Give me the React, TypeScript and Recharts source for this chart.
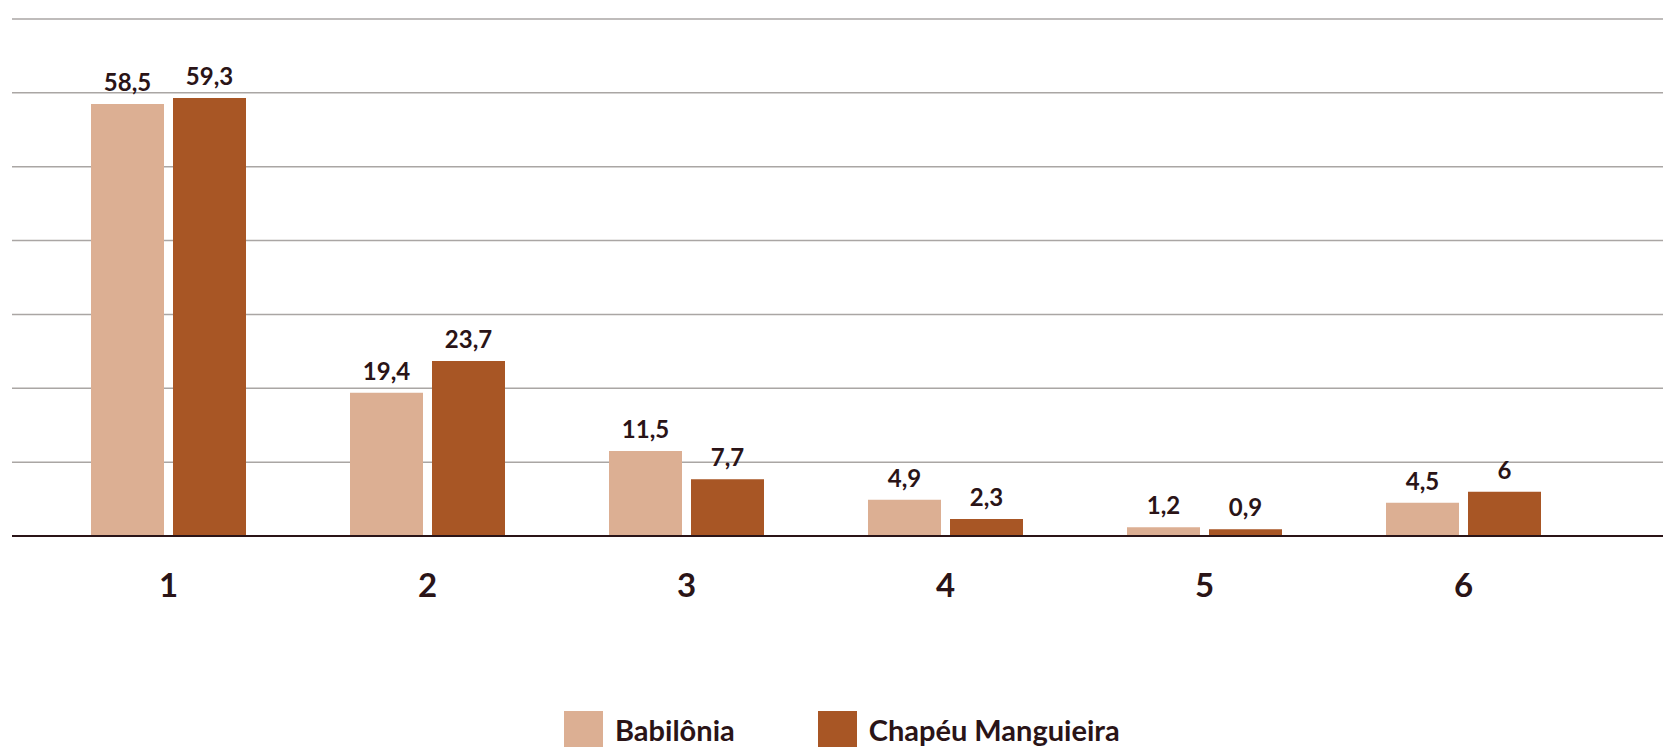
import { BarChart, Bar, XAxis, YAxis, CartesianGrid, Legend, LabelList } from "recharts";

const categories = ["1", "2", "3", "4", "5", "6"];
const babilonia = [58.5, 19.4, 11.5, 4.9, 1.2, 4.5];
const chapeu = [59.3, 23.7, 7.7, 2.3, 0.9, 6];
const yTicks = [0, 10, 20, 30, 40, 50, 60, 70];

const LIGHT = "#dcaf93";
const DARK = "#a85625";
const INK = "#2a1417";
const FONT = "Lato, 'Noto Sans', sans-serif";

const data = categories.map((c, i) => ({
  name: c,
  babilonia: babilonia[i],
  chapeu: chapeu[i],
}));

const fmt = (v: any) => String(v).replace(".", ",");

function LegendBox() {
  const items = [
    { label: "Babilônia", color: LIGHT },
    { label: "Chapéu Manguieira", color: DARK },
  ];
  return (
    <div style={{ display: "flex", height: 36, paddingLeft: 552, fontFamily: FONT }}>
      {items.map((it) => (
        <div key={it.label} style={{ display: "flex", alignItems: "center", marginRight: 83 }}>
          <div style={{ width: 39, height: 36, background: it.color, marginRight: 12 }} />
          <span style={{ fontSize: 29, fontWeight: 700, color: INK }}>{it.label}</span>
        </div>
      ))}
    </div>
  );
}

const labelStyle = { fontSize: 24, fontWeight: 700, fill: INK, fontFamily: FONT };

export default function App() {
  return (
    <div style={{ position: "absolute", left: 0, top: 0, width: 1663, height: 747, background: "#fff" }}>
      <BarChart
        width={1663}
        height={747}
        data={data}
        margin={{ top: 19, right: 0, left: 12, bottom: 0 }}
        barSize={73}
        barGap={9}
      >
        <CartesianGrid vertical={false} stroke="#aaa6a4" strokeWidth={1.5} />
        <YAxis hide domain={[0, 70]} ticks={yTicks} width={0} />
        <XAxis
          dataKey="name"
          padding={{ left: 27, right: 70 }}
          height={175}
          axisLine={{ stroke: INK, strokeWidth: 2 }}
          tickLine={false}
          tickMargin={32}
          tick={{ fontSize: 33, fontWeight: 700, fill: INK, fontFamily: FONT }}
        />
        <Legend verticalAlign="bottom" content={() => <LegendBox />} />
        <Bar dataKey="babilonia" fill={LIGHT} isAnimationActive={false}>
          <LabelList dataKey="babilonia" position="top" offset={13} formatter={fmt} style={labelStyle} />
        </Bar>
        <Bar dataKey="chapeu" fill={DARK} isAnimationActive={false}>
          <LabelList dataKey="chapeu" position="top" offset={13} formatter={fmt} style={labelStyle} />
        </Bar>
      </BarChart>
    </div>
  );
}
